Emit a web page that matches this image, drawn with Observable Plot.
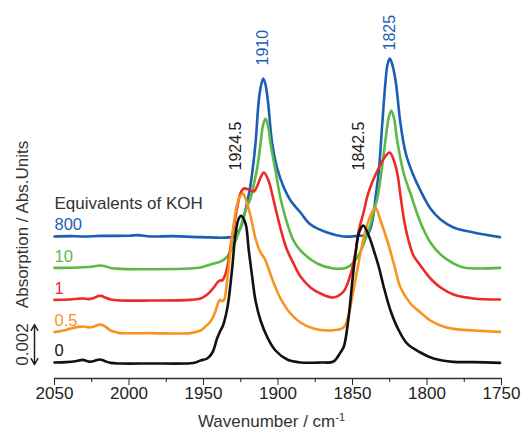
<!DOCTYPE html>
<html><head><meta charset="utf-8">
<script src="https://cdn.jsdelivr.net/npm/d3@7"></script>
<script src="https://cdn.jsdelivr.net/npm/@observablehq/plot@0.6"></script>
<style>html,body{margin:0;padding:0;background:#fff;font-family:"Liberation Sans",Arial,sans-serif}#chart svg{display:block}</style>
</head><body><div id="chart"></div>
<script>
// Series meta (equivalents of KOH), colours and vertical stacking offsets (mAbs)
const seriesNames = ["0", "0.5", "1", "10", "800"];
const seriesColors = ["#111111", "#f7941e", "#ee2a24", "#5cb947", "#1a5fb4"];
const seriesOffsets = [0, 1.5, 3.1, 4.7, 6.3];

// Spectra: [wavenumber cm-1, absorbance in mAbs]
const spec0 = [[2050,0],[2042,0.02],[2036,0.06],[2031,0.13],[2028.5,0.08],[2025.8,0.04],[2022.5,0.1],[2019.5,0.15],[2016.5,0.08],[2012.4,-0.02],[2005.7,-0.05],[1985.6,-0.05],[1958.7,-0.04],[1955.4,0],[1952,0.1],[1947.5,0.2],[1944,0.5],[1940.9,1.2],[1938.9,1.55],[1936.9,1.85],[1934.6,2.5],[1933.2,3.1],[1930.7,4.75],[1928.5,6.45],[1926.3,7.2],[1924.7,7.33],[1921.8,6.95],[1919.6,5.6],[1917.3,4.27],[1915.1,3.1],[1911.7,2.1],[1907.2,1.27],[1901.7,0.6],[1893.8,0.15],[1884.9,0],[1871.5,0],[1862.8,0.05],[1858.1,0.5],[1855.8,0.8],[1852.7,2.2],[1850.2,4.0],[1847.7,5.6],[1845.8,6.45],[1842.8,6.85],[1839.1,6.35],[1835.7,5.6],[1832.3,4.77],[1829,3.77],[1824.5,2.6],[1820,1.77],[1813.3,0.94],[1804.4,0.5],[1795.6,0.2],[1782.2,0.03],[1768.8,0.02],[1751,-0.02]];
const spec05 = [[2050,0.02],[2044,0.1],[2039,0.2],[2034,0.28],[2030.5,0.3],[2027,0.26],[2024.5,0.27],[2021.5,0.36],[2019.1,0.4],[2016,0.3],[2012.4,0.1],[2008,0],[2005.7,-0.03],[1985.6,-0.03],[1958.7,-0.03],[1952,0.1],[1948.7,0.3],[1945.3,0.55],[1942.5,0.95],[1941,1.3],[1939.8,1.55],[1938.6,1.63],[1937.4,1.58],[1936.2,1.62],[1935.2,1.95],[1933.2,3.2],[1930.7,4.85],[1928.5,6.0],[1926.2,6.7],[1923.5,6.95],[1921.8,6.7],[1918.5,5.85],[1915.1,4.7],[1911.7,4.0],[1909,3.7],[1906.4,3.2],[1903,2.5],[1898.3,1.7],[1891.6,0.95],[1884.9,0.5],[1876.2,0.2],[1864.8,0.1],[1856,0.25],[1852.7,0.85],[1850,1.85],[1846.6,3.2],[1842.6,4.7],[1837.9,5.85],[1834.6,6.23],[1831.2,5.6],[1826.7,4.6],[1822.3,3.45],[1817.8,2.25],[1811.1,1.45],[1804.4,1.0],[1797.7,0.6],[1790.9,0.35],[1782.2,0.18],[1768.8,0.1],[1751,0.03]];
const spec1 = [[2050,0.03],[2040,0.05],[2034,0.09],[2030.5,0.1],[2027,0.07],[2023.5,0.13],[2020.5,0.22],[2018.5,0.23],[2016,0.15],[2012.4,0.05],[2005.7,0],[1985.6,0],[1958.7,0.03],[1952,0.1],[1947.5,0.3],[1943.1,0.65],[1940.5,0.92],[1938.8,1.0],[1937.2,1.02],[1935.6,1.25],[1934.1,1.65],[1931.9,2.65],[1929.7,3.65],[1927.4,4.65],[1925.2,5.35],[1923,5.6],[1919.8,5.55],[1916.2,5.45],[1913.8,5.75],[1911.7,6.15],[1909.5,6.4],[1906.4,6.0],[1903.7,5.25],[1901,4.4],[1898.3,3.6],[1894.3,2.6],[1889.6,1.85],[1884.9,1.2],[1878.2,0.65],[1871.5,0.35],[1862.8,0.15],[1856,0.45],[1851.3,1.3],[1848,2.4],[1845.8,3.5],[1842.4,4.45],[1840.1,5.2],[1836.8,5.9],[1833.9,6.4],[1831.2,6.8],[1828.5,7.15],[1825,7.4],[1821.8,6.9],[1819.8,6.3],[1817.8,5.25],[1815.1,3.9],[1812.4,3.0],[1809.1,2.25],[1804.4,1.75],[1797.7,1.1],[1790.9,0.65],[1782.2,0.3],[1768.8,0.1],[1751,0.05]];
const spec10 = [[2050,0.03],[2038,0.04],[2030.5,0.06],[2024,0.1],[2019.5,0.15],[2015.5,0.1],[2012.4,0.03],[2005.7,-0.02],[1958.7,0],[1952,0.05],[1945.3,0.2],[1938.6,0.35],[1934.6,0.55],[1929.9,1.15],[1925.2,2.05],[1921.8,2.9],[1918.5,3.5],[1916.4,4.15],[1914,5.0],[1911.7,6.25],[1910.1,7.15],[1908.4,7.5],[1906.7,7.15],[1905,6.25],[1901.7,4.9],[1898.3,3.5],[1893.8,2.25],[1889.6,1.4],[1884.9,0.9],[1873.7,0.25],[1862.8,0],[1853.6,0.05],[1846.8,0.55],[1842.4,1.25],[1837.9,2.2],[1835.7,2.9],[1833.4,3.5],[1831.2,4.5],[1827.9,6.4],[1825.8,7.5],[1824,7.9],[1822.1,7.5],[1820,6.4],[1815.6,4.75],[1811.1,3.75],[1804.4,2.3],[1797.7,1.3],[1790.9,0.7],[1782.2,0.25],[1775.5,0.05],[1751,0.03]];
const spec800 = [[2050,0],[2040,0.02],[2030.5,0],[2019.1,0.03],[2000,0.04],[1994,0.07],[1985.6,0],[1970,0.02],[1952,-0.03],[1929.9,0],[1927.4,0.2],[1925.2,0.4],[1923.2,0.9],[1920.7,1.7],[1918.5,2.55],[1917.1,3.3],[1915.1,4.65],[1912.9,6.8],[1911.4,7.55],[1909.9,7.9],[1908.4,7.6],[1906.8,6.8],[1903.9,4.65],[1900.5,3.4],[1896.1,2.45],[1891.6,1.8],[1884.9,1.2],[1878.2,0.6],[1867,0.2],[1856,0],[1846.8,0.03],[1840.1,0.1],[1837.9,0.4],[1835.7,1.2],[1834.6,1.9],[1832.3,3.3],[1830.1,5.55],[1827.9,7.7],[1826.5,8.6],[1825,8.9],[1823.5,8.65],[1821.1,7.8],[1817.8,5.65],[1814.4,4.2],[1809.9,3.2],[1804.4,2.3],[1797.7,1.4],[1790.9,0.85],[1782.2,0.45],[1768.8,0.2],[1751,-0.03]];

// Axis ticks
const xTicks = [2050, 2000, 1950, 1900, 1850, 1800, 1750];
const xMinorTicks = [2025, 1975, 1925, 1875, 1825, 1775];

// Peak annotations
const peakText = ["1910", "1825", "1924.5", "1842.5"];
const peakWn = [1910, 1825, 1924.5, 1842.5];
const peakLevel = [14.85, 15.6, 9.6, 9.6];
const peakColor = ["#1a5fb4", "#1a5fb4", "#222222", "#222222"];

// Scale bar (mAbs): 0.002 Abs
const scaleBarFrom = -0.1;
const scaleBarSize = 2;
const scaleBarText = "0.002";

const spectra = [spec0, spec05, spec1, spec10, spec800];
const rows = spectra.flatMap((s, i) => s.map(([wn, a]) => ({wn, a: a + seriesOffsets[i], series: seriesNames[i], order: i})))
  .sort((p, q) => q.order - p.order);

const xDomain = [2050, 1750];
const yDomain = [-0.8, 18.1];

const seriesLabels = seriesNames.map((n, i) => ({n, y: seriesOffsets[i], c: seriesColors[i]}));
const peaks = peakText.map((t, i) => ({t, wn: peakWn[i], y: peakLevel[i], c: peakColor[i], black: i >= 2}));
const mid = scaleBarFrom + scaleBarSize / 2;

const chart = Plot.plot({
  width: 521, height: 434,
  marginLeft: 54, marginRight: 20, marginTop: 0, marginBottom: 56,
  style: {fontFamily: "'Liberation Sans', Arial, sans-serif", background: "white", overflow: "visible"},
  x: {domain: xDomain, label: null},
  y: {domain: yDomain, axis: null},
  color: {domain: seriesNames, range: seriesColors},
  marks: [
    Plot.ruleY([yDomain[0]], {stroke: "#333", strokeWidth: 1.3}),
    Plot.axisX({ticks: xTicks, tickSize: 7, tickPadding: 1, fontSize: 17, label: null, color: "#222", tickFormat: d => String(d)}),
    Plot.axisX({ticks: xMinorTicks, tickSize: 4, tickFormat: () => "", label: null, color: "#222"}),
    Plot.line(rows, {x: "wn", y: "a", z: "series", stroke: "series", curve: "catmull-rom", strokeWidth: 2.6, strokeLinejoin: "round"}),
    Plot.text(seriesLabels, {frameAnchor: "left", y: "y", text: "n", fill: "c", textAnchor: "start", lineAnchor: "bottom", dy: -7, fontSize: 16.5}),
    Plot.text(["Equivalents of KOH"], {frameAnchor: "left", y: () => seriesOffsets[4], text: d => d, fill: "#333", textAnchor: "start", lineAnchor: "bottom", dy: -28, fontSize: 17}),
    Plot.text(peaks.filter(d => !d.black), {x: "wn", y: "y", text: "t", fill: "c", rotate: -90, textAnchor: "start", lineAnchor: "middle", fontSize: 16}),
    Plot.text(peaks.filter(d => d.black), {x: "wn", y: "y", text: "t", fill: "c", rotate: -90, textAnchor: "start", lineAnchor: "bottom", fontSize: 16}),
    Plot.text(["Absorption / Abs.Units"], {frameAnchor: "left", y: () => 6.9, text: d => d, fill: "#333", rotate: -90, textAnchor: "middle", lineAnchor: "bottom", dx: -27, fontSize: 17}),
    Plot.text([scaleBarText], {frameAnchor: "left", y: () => mid, text: d => d, fill: "#333", rotate: -90, textAnchor: "middle", lineAnchor: "bottom", dx: -27, fontSize: 17}),
    Plot.arrow([{a: mid, b: scaleBarFrom + scaleBarSize}, {a: mid, b: scaleBarFrom}], {x1: () => xDomain[0], x2: () => xDomain[0], y1: "a", y2: "b", dx: -20, stroke: "#222", strokeWidth: 1.5, headLength: 8})
  ]
});

document.getElementById("chart").appendChild(chart);

// x-axis title with superscript
const svg = d3.select(chart);
const xs = chart.scale("x");
const ys = chart.scale("y");
const t = svg.append("text")
  .attr("x", (xs.range[0] + xs.range[1]) / 2 - 6)
  .attr("y", ys.range[0] + 49)
  .attr("text-anchor", "middle")
  .attr("font-size", 17)
  .attr("fill", "#333")
  .attr("font-family", "'Liberation Sans', Arial, sans-serif");
t.append("tspan").text("Wavenumber / cm");
t.append("tspan").attr("dy", "-0.55em").attr("font-size", 11).text("-1");
</script>
</body></html>
